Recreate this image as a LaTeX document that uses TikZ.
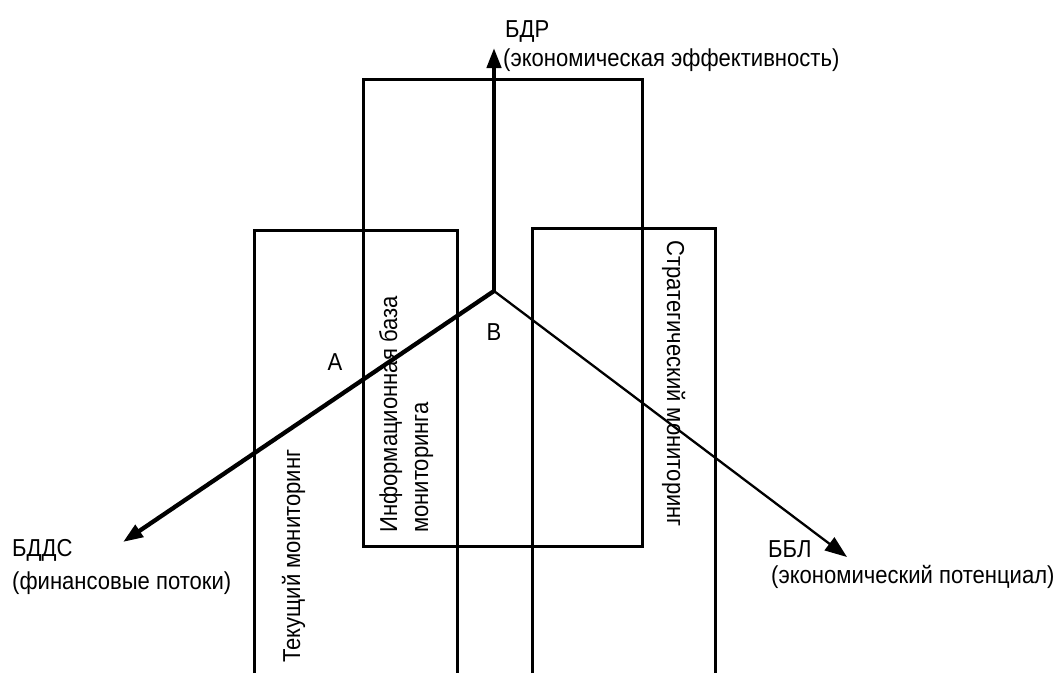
\documentclass[tikz,border=0pt]{standalone}
\usepackage{fontspec}
\setmainfont{Liberation Sans}[FakeStretch=0.9]
\usetikzlibrary{positioning,arrows.meta}
\tikzset{
  every node/.style={
    inner sep=0pt,
    font=\fontsize{24.5pt}{28pt}\selectfont
  },
  frame/.style={line width=3pt},
  axis/.style={line width=4.3pt,-{Triangle[length=20pt,width=14pt]}},
  thinaxis/.style={line width=2.3pt,-{Triangle[length=22pt,width=16pt]}}
}

\begin{document}
\begin{tikzpicture}[x=1pt,y=-1pt]
\useasboundingbox (0,0) rectangle (1053,673);
\coordinate (Center) at (494,291); \coordinate (TipBDR) at (494,48);
\coordinate (TipBDDS) at (123,542); \coordinate (TipBBL) at (847,557);
\node[anchor=base west] (BDR) at (505,37) {БДР}; \node[on grid,
below=29pt of BDR.base west, anchor=base west, xshift=-2pt] (BDRsub)
{(экономическая эффективность)}; \node[anchor=base west] (BDDS) at
(12,556) {БДДС}; \node[on grid, below=33pt of BDDS.base west,
anchor=base west] (BDDSsub) {(финансовые потоки)}; \node[anchor=base
west] (BBL) at (768,557) {ББЛ}; \node[on grid, below=26pt of
BBL.base west, anchor=base west, xshift=3pt] (BBLsub) {(экономический
потенциал)};
\node[rotate=90, anchor=base west] (Current) at (300,663) {Текущий
мониторинг}; \node[rotate=90, anchor=base west] (InfoA) at (397,533)
{Информационная база}; \node[rotate=90, anchor=base west] (InfoB) at
(428,533) {мониторинга}; \node[rotate=-90, anchor=base west]
(Strategic) at (667,240) {Стратегический мониторинг};
\node (A) at (335,362) {А}; \node (B) at (494,332) {В};
\draw[frame] (363,546) rectangle (642,79);
\draw[frame] (254,673) |- (457,230) -- (457,673);
\draw[frame] (532,673) |- (715,228) -- (715,673);
\draw[axis] (Center) -- (TipBDR); \draw[axis] (Center) -- (TipBDDS);
\draw[thinaxis] (Center) -- (TipBBL);
\end{tikzpicture}
\end{document}
